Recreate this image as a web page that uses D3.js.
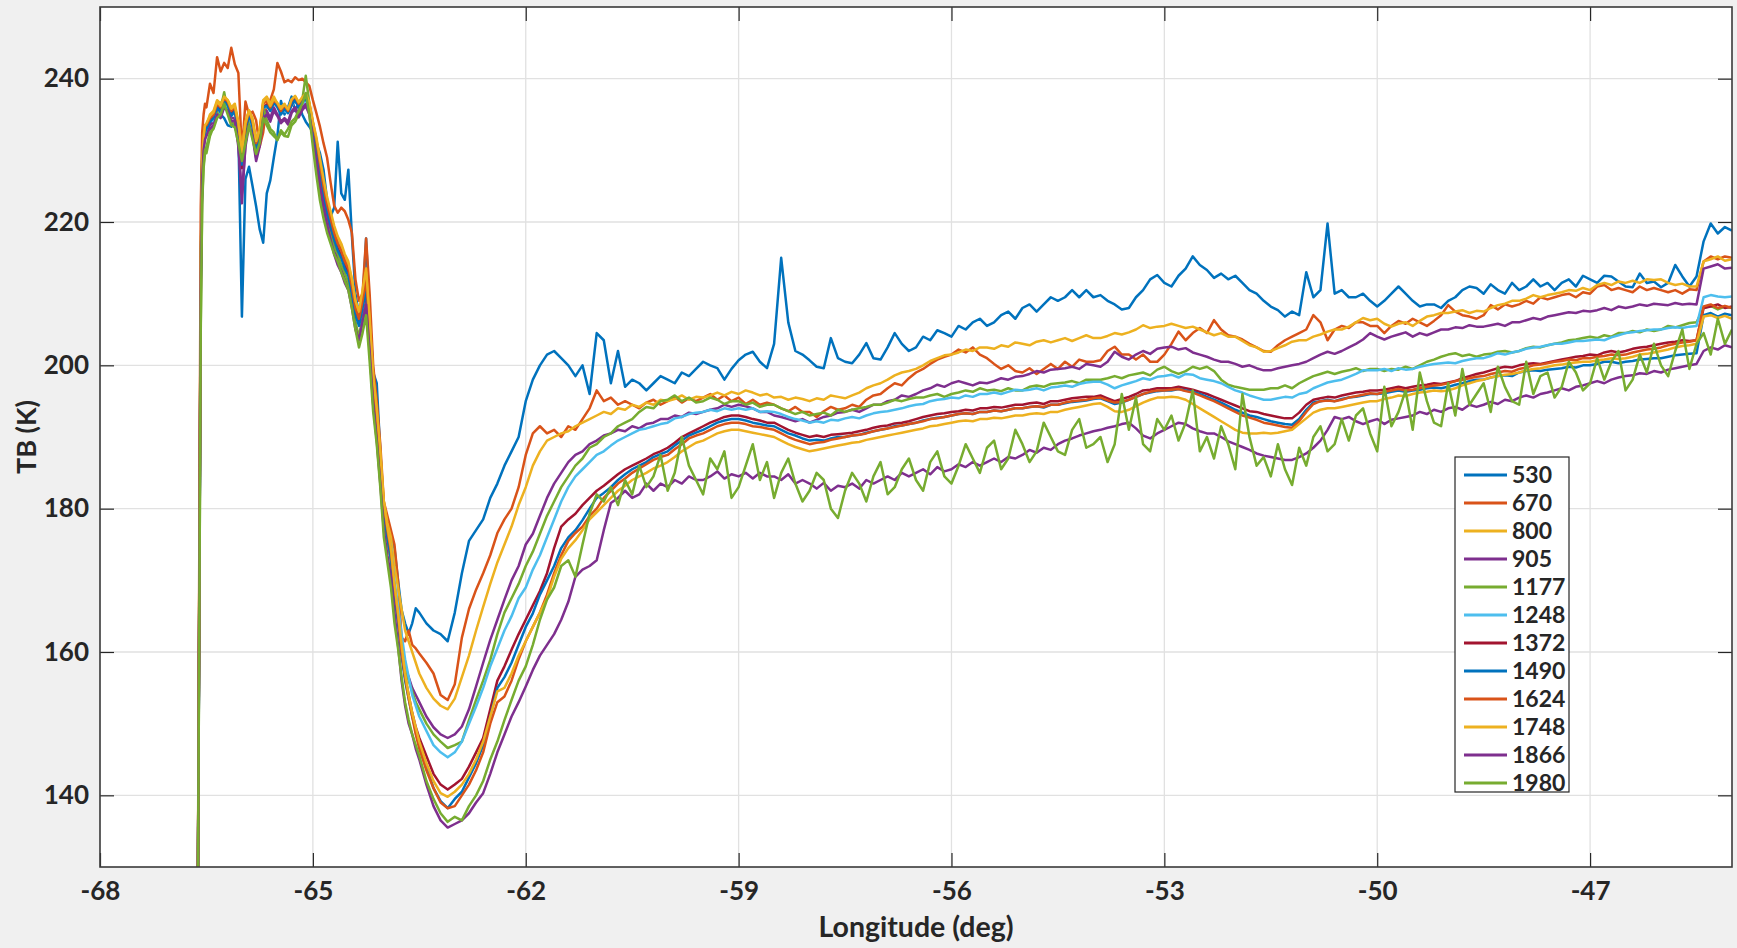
<!DOCTYPE html>
<html>
<head>
<meta charset="utf-8">
<script src="https://cdn.jsdelivr.net/npm/d3@7"></script>
<style>
  html, body { margin: 0; padding: 0; background: #f0f0f0; }
  svg { display: block; }
  text { font-family: Lato, "Open Sans", sans-serif; font-weight: 700; fill: #262626; }
</style>
</head>
<body>
<svg id="chart" width="1737" height="948"></svg>
<script>
// ---- sampling grid (deg): fine steps over the coastal rise, 0.05 over the hump, 0.1 across the plateau
const lonRise = [-66.64, -66.62, -66.60, -66.58, -66.56, -66.54, -66.52];
const lonHump = d3.range(61).map(i => +(-66.5 + 0.05 * i).toFixed(2));
const lonPlateau = d3.range(185).map(i => +(-63.4 + 0.1 * i).toFixed(2));
const longitude = lonRise.concat(lonHump, lonPlateau);

// ---- axis ticks
const xTicks = [-68, -65, -62, -59, -56, -53, -50, -47];
const yTicks = [140, 160, 180, 200, 220, 240];

// ---- channels (MHz) and colours
const channels = ["530", "670", "800", "905", "1177", "1248", "1372", "1490", "1624", "1748", "1866", "1980"];
const colors = ["#0072BD", "#D95319", "#EDB120", "#7E2F8E", "#77AC30", "#4DBEEE", "#A2142F",
                "#0072BD", "#D95319", "#EDB120", "#7E2F8E", "#77AC30"];

// ---- brightness temperature (K) per channel, one value per longitude sample
const tb530 = [
  118, 127, 168, 214, 229, 231.5, 232.5,
  232.5, 234, 234.7, 236, 235, 234.5, 233.5, 233.3, 234, 232.4,
  206.8, 226, 227.7, 225, 222.2, 219, 217.1, 224, 225.8, 229,
  232, 236.9, 235, 236, 237.5, 235.5, 236.5, 235, 234, 233.3,
  232.5, 231, 229.6, 227.3, 223.1, 220.8, 222, 231.2, 224, 223.1,
  227.3, 218.1, 210, 207, 208.5, 217.7, 207, 199, 197.5, 188,
  180, 177, 176, 174.5, 170, 165.9, 164, 162.6, 164, 166.1, 165.5,
  164, 163, 162.5, 161.5, 165.5, 171, 175.5, 177, 178.5, 181.5,
  183.5, 186, 188, 190, 195, 198, 200, 201.5, 202, 201,
  200, 198.5, 200, 196, 204.5, 203.5, 197.5, 202, 197, 198,
  197.5, 196.5, 197.5, 198.5, 198, 197.5, 199, 198.5, 199.5, 200.5,
  200, 199.6, 198, 199.5, 200.7, 201.5, 201.9, 200.5, 199.6, 203,
  215, 206, 202, 201.5, 200.7, 199.8, 199.6, 203.8, 201, 200.5,
  200.3, 201.5, 203.1, 201, 200.8, 202.5, 204.5, 203, 202, 202.5,
  204, 203.5, 204.9, 204.5, 204, 205.5, 205, 206, 206.5, 205.5,
  206, 207, 207.5, 206.5, 208, 208.5, 207.5, 208.5, 209.5, 209,
  209.5, 210.5, 209.5, 210.5, 209.5, 209.8, 209, 208.5, 207.8, 208,
  209.5, 210.5, 212, 212.6, 211.5, 211, 212.5, 213.5, 215.2, 214,
  213.3, 212.2, 212.8, 212, 212.5, 211.5, 210.5, 210, 209, 208.2,
  207.7, 206.8, 207.5, 207, 213, 209.5, 210.5, 219.8, 210, 210.5,
  209.5, 209.5, 210, 209, 208.2, 209, 210, 211, 210, 209,
  208.2, 208.5, 208.5, 208, 209, 209.5, 210.5, 211, 210.8, 210,
  211.3, 210.5, 210, 211.5, 210.5, 211, 212, 211, 211.5, 210.5,
  211.5, 212, 211, 212.5, 212, 211.5, 212.5, 212.4, 211.7, 211,
  210.9, 212.8, 211.5, 211.7, 210.9, 211.5, 214, 212.4, 211, 212.4,
  217.3, 219.8, 218.4, 219.3, 218.8
];
const tb670 = [
  118, 129, 176, 222, 232.5, 235, 236.5,
  236, 239.3, 238, 243, 241, 242.2, 241.5, 244.3, 242, 240.8,
  229.6, 236.8, 235, 235.4, 234.2, 230.5, 232.5, 236.6, 237, 238.5,
  242.2, 241, 239.5, 239.8, 239.5, 240.2, 239.8, 240, 239.5, 239,
  237, 235.2, 233.3, 231, 229, 225.5, 222.3, 221.3, 222, 221.5,
  220.3, 218.5, 212, 209, 210, 217.7, 210, 200, 195, 189,
  181, 179, 177, 175, 170, 162, 161.5, 163, 161, 160.5, 159.8,
  158.5, 157, 154, 153.3, 155.5, 162, 166, 168.7, 171, 173.5,
  176.6, 178.5, 180, 183, 187.5, 190.5, 191.5, 190.5, 191, 190,
  191.5, 191, 192.5, 194, 196.5, 195, 195.5, 194.5, 195, 194.5,
  194, 194.8, 195.2, 194.5, 195, 195.6, 194.8, 195.4, 195, 195.5,
  196, 195.2, 195.8, 195, 195.5, 194.6, 195.2, 194.5, 194.8, 194.5,
  194, 193.6, 194.2, 193.5, 193.5, 192.8, 193.6, 194.2, 193.8, 194,
  194.5, 194.2, 195.2, 195.8, 196, 196.8, 197.5, 197.2, 198.2, 199,
  199.5, 200.2, 200.8, 201.2, 201.5, 202.2, 201.8, 202.5, 201.5, 201,
  200.2, 199.5, 200, 199.2, 199, 199.6, 198.8, 199.5, 200.2, 199.5,
  200.5, 199.8, 200.8, 200.5, 200.5, 200.7, 202, 202.6, 201.5, 201.5,
  200.8, 201.5, 200.5, 200.5, 201.5, 203, 204.7, 203.5, 204.5, 205.2,
  204.5, 206.3, 205, 204.2, 204, 203.6, 203, 202.5, 202, 201.9,
  202.8, 203.5, 204, 204.5, 205, 207, 206, 203.5, 205, 205.5,
  205.2, 206, 206, 205.5, 205.5, 204.5, 205.5, 206.2, 205.8, 206.5,
  206, 205.5, 206.2, 207, 208.4, 207.5, 207, 206.8, 206.5, 207,
  208.4, 207.8, 208.5, 208.2, 208.5, 209, 208.6, 209.5, 209.2, 209.5,
  209.8, 210, 209.5, 210.2, 210, 211, 211.2, 210.5, 210.8, 210.5,
  210.2, 211, 210.5, 210.8, 210.5, 210.2, 210.5, 210, 210.6, 210.5,
  214.5, 215.2, 214.8, 215.2, 215
];
const tb800 = [
  118, 128, 171, 214, 228, 231.5, 233,
  233.5, 235, 235.5, 237, 236.5, 237.5, 237, 236, 236.5, 234,
  230, 234, 235.5, 234.5, 231.5, 233, 237, 237.5, 236.5, 237.5,
  236.5, 236, 236.5, 235.5, 237, 237.5, 236.5, 237, 237.5, 236.5,
  234, 231.5, 228.5, 225.5, 223, 221, 219, 217.5, 216.5, 215,
  214, 212, 209, 207, 210, 213, 206, 198.5, 193.5, 187.5,
  181, 178, 176, 172, 169, 166, 163, 161.5, 160, 158.5, 157,
  155, 153.5, 152.5, 152, 153.5, 156.5, 159.5, 163, 166.3, 169.5,
  172.5, 175, 177.5, 180.5, 183, 186, 188, 189.5, 190, 190.5,
  190.8, 191.5, 192, 192.5, 193, 193.5, 193.2, 194, 193.8, 194.5,
  194.2, 194.8, 194.5, 195.2, 195, 195.3, 195.8, 195.2, 195.6, 195.5,
  195.8, 196.2, 195.8, 196.3, 196, 196.5, 196.2, 195.8, 196, 195.5,
  195.6, 195.2, 195.5, 195.3, 195, 195.4, 195.2, 195.8, 195.6, 195.4,
  195.8, 196.2, 196.8, 197.2, 197.5, 198, 198.6, 199, 199.2, 199.5,
  200, 200.6, 201, 201.4, 201.5, 201.8, 202.2, 202, 202.5, 202.5,
  202.3, 202.8, 202.6, 203.2, 203, 202.8, 203.3, 203.5, 203.2, 203.5,
  203.8, 203.4, 203.8, 204.2, 203.8, 203.8, 204.1, 204.5, 204.3, 204.6,
  205, 205.6, 205.2, 205.4, 205.5, 205.8, 205.5, 205.2, 205.4, 205,
  204.6, 204.2, 204.5, 204, 204, 203.4, 202.8, 202.5, 201.9, 202,
  202.4, 202.8, 203.3, 203.5, 203.5, 204, 204.3, 204.7, 205, 205,
  205.4, 206, 206.6, 206.3, 206.5, 205.8, 205.4, 205.8, 206, 205.5,
  206.2, 206.8, 207, 207.3, 207.3, 207.5, 207.7, 207.3, 207.6, 207.5,
  208, 208.4, 208.6, 209, 209, 209.3, 209.8, 209.5, 209.8, 210,
  210.2, 210.5, 210.4, 210.8, 210.5, 211.2, 211.5, 211.2, 211.7, 211.5,
  211.8, 211.5, 212, 211.9, 212, 211.5, 211.2, 211.4, 211, 211,
  214.5, 214.8, 215.2, 214.6, 214.8
];
const tb905 = [
  118, 127, 169, 212, 227, 230.5, 232,
  232.5, 233.5, 234, 235.5, 235, 236, 235.5, 234.5, 234.5, 231,
  222.6, 231, 234, 232.5, 229, 231, 235, 235.5, 234.5, 236,
  235, 234, 234.5, 234, 235.5, 236, 235, 236, 236.5, 235.5,
  232, 229.5, 226, 223, 220.5, 218.5, 216.5, 215, 213.5, 212,
  211, 208.5, 205.5, 204, 206.5, 209, 202.5, 195, 190.5, 184.5,
  179, 176, 173, 169, 166, 161, 158, 156.5, 155, 154, 153,
  151, 149.5, 148.5, 148, 148.5, 149.6, 152, 155.2, 158.5, 161.7,
  164.5, 167.3, 170, 172, 175, 176.5, 179, 181.5, 183.5, 185,
  186.5, 187.5, 188, 189, 189.5, 190.2, 190.5, 191, 190.8, 191.5,
  191.2, 191.8, 192, 192.5, 192.5, 193, 192.8, 193.4, 193.2, 193.5,
  193.8, 194, 194.5, 194.2, 194.5, 194.3, 194, 193.5, 193.5, 193,
  192.8, 192.5, 192.2, 192.5, 192, 192.4, 192.8, 193, 193.4, 193.5,
  193.8, 193.5, 194, 194.5, 194.5, 195, 195.2, 195.8, 195.6, 196,
  196.5, 196.8, 197.3, 197, 197.5, 197.8, 197.5, 197.2, 197.6, 197.5,
  197.8, 198.2, 198, 198.4, 198.5, 198.8, 199.2, 199, 199.4, 199.5,
  199.6, 199.8, 199.5, 200.2, 200, 199.8, 200.5, 201.9, 201.2, 200.8,
  201.5, 202, 201.6, 202.3, 202.5, 202.6, 202.2, 202.4, 201.8, 201.5,
  201.2, 200.8, 200.5, 200.5, 200.2, 199.8, 200, 199.6, 199.3, 199.3,
  199.6, 199.8, 200, 200.2, 200.5, 201, 201.5, 201.9, 201.6, 202,
  202.5, 203, 203.6, 204.5, 204, 203.6, 204, 204.3, 204.6, 204,
  204.5, 204.2, 204.6, 205, 205, 205.3, 205.2, 205.6, 205.4, 205.4,
  205.6, 205.8, 205.5, 206, 206, 206.3, 206.6, 206.4, 206.8, 207,
  207.2, 207.4, 207.3, 207.6, 207.5, 207.7, 208, 207.7, 208.2, 208,
  208.2, 208.5, 208.3, 208.6, 208.5, 208.4, 208.7, 208.5, 208.6, 208.5,
  213.5, 213.8, 214.1, 213.5, 213.6
];
const tb1177 = [
  118, 127, 165, 205, 222.5, 227.5, 229.6,
  229.6, 232, 233.3, 235, 235.8, 238.1, 235.5, 234.2, 233.5, 231.5,
  229.6, 232, 234.7, 232, 230, 231.9, 236, 234.2, 233, 232.5,
  231.4, 232.5, 232, 231.9, 233.5, 234, 235, 237, 240.4, 236.6,
  231.9, 227.3, 224, 221.7, 219.5, 218.1, 216.5, 215.6, 214, 212.9,
  211.5, 209, 206, 204, 206, 208.5, 202, 194.5, 190, 184,
  178.5, 175.5, 172.5, 168, 165, 161, 158, 156, 154.5, 153, 152,
  150, 148.5, 147.5, 146.6, 147, 147.5, 150.5, 153.3, 156, 158.9,
  162.5, 165.5, 167.5, 169.5, 172, 174, 176.5, 179, 181, 183,
  184.5, 186, 187, 188.5, 189, 190, 190.5, 191.5, 192, 192.5,
  193.5, 194.2, 194, 195, 195.2, 195.8, 195, 195.5, 194.8, 195,
  195.5, 195.2, 194.6, 195, 195, 194.5, 194.8, 194.2, 194.5, 194.5,
  194, 193.6, 193.2, 193.5, 193, 193.2, 193.4, 193, 193.8, 193.5,
  193.8, 194, 194.2, 194.5, 194.5, 194.8, 195.2, 195, 195.3, 195.5,
  195.5, 195.8, 196, 195.6, 196, 196.2, 196.5, 196.3, 196.8, 196.5,
  196.6, 196.4, 196.8, 196.5, 196.5, 197, 197.2, 197, 197.4, 197.5,
  197.6, 197.8, 197.5, 198, 198, 198, 198.2, 198.5, 198.2, 198.6,
  198.8, 199, 198.6, 199.4, 199.8, 199.2, 198.8, 199.2, 199.8, 199.5,
  199.8, 199.2, 198, 197.3, 197, 196.8, 196.6, 196.6, 196.6, 196.8,
  196.8, 197.2, 196.8, 197.5, 198, 198.5, 198.8, 199.1, 198.8, 199.1,
  199.3, 199.6, 199.2, 199.5, 199.5, 199.2, 199.5, 199.4, 199.8, 199.5,
  200, 200.5, 200.8, 201.2, 201.5, 201.7, 201.3, 201.5, 201.2, 201.5,
  201.6, 201.9, 202, 201.8, 202, 202.4, 202.6, 202.5, 202.8, 203,
  203.2, 203.5, 203.6, 203.8, 204, 203.8, 204.2, 204, 204.5, 204.5,
  204.8, 204.6, 205, 204.8, 205, 205.5, 205.3, 205.6, 205.9, 206,
  208, 208.3, 207.8, 208.2, 208
];
const tb1248 = [
  118, 128, 170, 213, 227.5, 231, 232.5,
  233, 234.5, 234, 236.5, 235, 237, 236, 235.5, 235, 233.5,
  228.5, 233.5, 235, 233, 231, 232.5, 236, 236, 235.8, 236.5,
  236.2, 235.3, 235.5, 235.2, 236.2, 236.8, 236.3, 236.5, 237, 236.2,
  233.5, 231, 227.5, 224.5, 222, 220, 218, 216.5, 215.5, 214,
  213, 210.5, 207.5, 206, 208.5, 211, 204.5, 197, 192.5, 186.5,
  180, 177, 174.5, 170, 166.5, 162.5, 159, 156.5, 154, 152.5, 151,
  149, 147, 146, 145.3, 146, 147.5, 150, 152.4, 155, 158,
  160.5, 163, 165, 167.5, 169, 171.5, 173.5, 176, 178.5, 181,
  183, 184.5, 185.5, 186.5, 187.5, 188, 188.8, 189.5, 190, 190.5,
  191, 191.2, 191.5, 191.8, 192, 192.6, 192.8, 193.2, 193.4, 193.5,
  193.8, 193.6, 194, 193.8, 194, 193.8, 194, 193.5, 193.6, 193.5,
  193.2, 192.8, 192.5, 192.3, 192, 192.2, 192, 192.4, 192.3, 192.6,
  192.8, 192.6, 193, 193.3, 193.5, 193.6, 193.8, 194, 194.3, 194.5,
  194.6, 195, 195.2, 195.3, 195.5, 195.4, 195.8, 195.6, 196, 196,
  196.2, 196, 196.3, 196.6, 196.5, 196.6, 196.8, 196.5, 196.9, 197,
  197.2, 197, 197.4, 197.6, 197.7, 197.7, 197.3, 196.8, 197.2, 197.5,
  197.8, 198.2, 198, 198.4, 198.5, 198.7, 198.3, 198.8, 198.7, 198.2,
  198, 197.8, 197.5, 197, 196.5, 196.2, 195.8, 195.5, 195.2, 195.2,
  195.4, 195.6, 195.5, 196, 196.2, 196.8, 197.2, 197.6, 197.8, 198,
  198.4, 198.8, 199.3, 199.3, 199.3, 199.5, 199.2, 199.6, 199.4, 199.5,
  199.8, 200, 200.2, 200.3, 200.4, 200.3, 200.6, 200.8, 201, 201,
  201.3, 201.7, 201.5, 201.8, 202, 202.3, 202.5, 202.6, 202.8, 203,
  203, 203.2, 203.4, 203.4, 203.5, 203.6, 203.5, 203.9, 204.2, 204.5,
  204.6, 204.8, 204.9, 205, 205, 205.2, 205.3, 205.2, 205.4, 205.5,
  209.5, 209.8, 209.6, 209.5, 209.6
];
const tb1372 = [
  118, 128, 170, 213, 228, 231.5, 233,
  233.3, 234.2, 234.8, 236.2, 235.6, 236.8, 236.5, 235.2, 235.8, 232.5,
  227.5, 232.8, 235.2, 233.8, 230.2, 232.3, 236.2, 236.3, 235.8, 236.6,
  236.3, 235.2, 236, 235.4, 236.3, 237.2, 236, 236.8, 237.3, 236.3,
  233.2, 231, 227.3, 224.5, 222, 220, 218, 216.3, 215.3, 214,
  212.8, 210.5, 207.5, 206, 208.5, 211.5, 204.5, 197, 192.5, 186.5,
  180, 176.5, 173.5, 168.5, 164.5, 160, 156.5, 154, 151.5, 149.5, 148,
  145.5, 143, 141.5, 140.8, 141.5, 142.3, 144, 146, 148, 152,
  156, 158, 160.3, 162.5, 164.5, 166.5, 168.5, 171, 174.5, 177.5,
  178.5, 179.3, 180.5, 181.5, 182.5, 183.2, 184, 184.8, 185.5, 186,
  186.5, 187, 187.6, 188, 188.5, 189.2, 190, 190.5, 191, 191.5,
  192, 192.4, 192.8, 193, 193, 192.8, 192.5, 192.3, 192, 192,
  191.5, 191, 190.6, 190.3, 190, 190.2, 190, 190.3, 190.4, 190.5,
  190.6, 190.8, 191, 191.3, 191.5, 191.6, 191.9, 192, 192.2, 192.5,
  192.8, 193, 193.2, 193.3, 193.5, 193.6, 193.8, 193.7, 194, 194,
  194.2, 194.1, 194.3, 194.5, 194.5, 194.7, 194.8, 194.6, 195, 195,
  195.2, 195.4, 195.5, 195.6, 195.6, 195.8, 195.4, 195, 195.3, 195.6,
  196, 196.5, 196.6, 196.8, 196.8, 196.8, 197, 196.8, 196.6, 196.3,
  196, 195.6, 195.2, 194.8, 194.4, 194, 193.6, 193.5, 193.2, 193,
  192.8, 192.6, 192.6, 193.4, 194.5, 195.2, 195.4, 195.6, 195.5, 195.8,
  196, 196.2, 196.3, 196.5, 196.5, 196.6, 196.8, 197, 196.8, 197,
  197.2, 197.3, 197.5, 197.4, 197.6, 197.8, 198.2, 198.5, 198.8, 199,
  199.3, 199.6, 199.8, 199.7, 200, 200.2, 200.3, 200.2, 200.4, 200.6,
  200.8, 201, 201.2, 201.3, 201.5, 201.4, 201.8, 202, 201.8, 202,
  202.3, 202.5, 202.6, 202.8, 203, 203.2, 203.3, 203.5, 203.4, 203.5,
  208, 208.2, 208.5, 208, 208.2
];
const tb1490 = [
  118, 128, 169, 212, 227.5, 231, 232.5,
  233, 234, 234.5, 236, 235.3, 236.8, 236.3, 234.8, 235.5, 232.7,
  228, 233, 235, 233.3, 230.3, 232, 236, 236.2, 235.5, 236.7,
  236, 235, 235.8, 235.2, 236.4, 237, 236, 236.8, 237.2, 236,
  233, 230.5, 227, 224, 221.5, 219.5, 217.5, 216, 215, 213.5,
  212.5, 210, 207, 205.5, 208, 210.5, 204, 196.5, 192, 186,
  179.5, 176, 173, 168, 164, 159.5, 156, 153.5, 151, 149, 147,
  144, 141, 139.2, 138.2, 139.5, 140.5, 142.5, 144.5, 147, 151,
  155, 156.5, 158.5, 161, 163.5, 165.4, 168, 170, 172, 174.5,
  176, 177, 178.4, 180, 181.5, 182.2, 183, 184, 184.8, 185.5,
  186, 186.5, 187.2, 187.6, 188, 188.8, 189.5, 190.2, 190.6, 191,
  191.5, 192, 192.3, 192.5, 192.5, 192.3, 192, 191.8, 191.6, 191.5,
  191, 190.5, 190.2, 189.8, 189.5, 189.6, 189.5, 189.8, 190, 190,
  190.2, 190.3, 190.6, 190.8, 191, 191.2, 191.5, 191.6, 191.8, 192,
  192.3, 192.5, 192.7, 192.8, 193, 193.2, 193.3, 193.2, 193.5, 193.5,
  193.7, 193.6, 193.8, 194, 194, 194.2, 194.3, 194.1, 194.5, 194.5,
  194.7, 194.9, 195, 195.1, 195.3, 195.4, 195, 194.6, 194.8, 195.2,
  195.6, 196, 196.2, 196.4, 196.5, 196.5, 196.7, 196.5, 196.3, 196,
  195.6, 195.2, 194.8, 194.3, 193.8, 193.4, 193, 192.8, 192.5, 192.2,
  192, 191.8, 191.7, 192.5, 193.8, 194.8, 195, 195.2, 195, 195.3,
  195.5, 195.6, 195.8, 196, 196, 196.1, 196.3, 196.5, 196.3, 196.5,
  196.6, 196.8, 196.9, 196.8, 197, 197.3, 197.5, 197.8, 198, 198,
  198.3, 198.5, 198.6, 198.5, 199, 199.2, 199.3, 199.2, 199.4, 199.5,
  199.6, 199.8, 199.7, 200, 200, 200.2, 200.5, 200.5, 200.3, 200.5,
  200.6, 200.8, 200.9, 201, 201, 201.2, 201.4, 201.5, 201.6, 201.7,
  207, 207.3, 206.8, 207.2, 207
];
const tb1624 = [
  118, 128, 171, 214, 228.5, 232, 233.5,
  233.5, 234.5, 235, 236.5, 236, 237.3, 236.8, 235.5, 236, 233.5,
  229.5, 233.5, 235.5, 234, 231, 232.5, 236.5, 237, 236, 237,
  236.5, 235.5, 236.3, 235.5, 237, 237.5, 236.5, 237.3, 237.8, 236.5,
  233.8, 231.3, 228, 225, 222.5, 220.5, 218.5, 217, 216, 214.5,
  213.5, 211, 208, 206.5, 209, 212, 205, 197.5, 193, 187,
  180.5, 177, 174, 169, 165, 160, 156.5, 153.5, 151, 148.5, 146.5,
  143.5, 141, 139, 138.2, 138.5, 140, 141.5, 143.5, 146, 150,
  153, 153.8, 156, 159, 161.5, 163.5, 165.5, 168, 171, 173.5,
  175.5, 176.6, 177.5, 179, 180, 181.5, 182.5, 183.5, 184.2, 185,
  185.6, 186.2, 186.8, 187.2, 187.5, 188.3, 189, 189.8, 190.2, 190.5,
  191, 191.5, 191.8, 192, 192, 191.8, 191.5, 191.4, 191.2, 191,
  190.5, 190, 189.6, 189.3, 189, 189.2, 189.3, 189.6, 189.8, 190,
  190.2, 190.3, 190.5, 190.8, 191, 191.2, 191.4, 191.6, 191.8, 192,
  192.2, 192.5, 192.6, 192.8, 193, 193.2, 193.3, 193.2, 193.5, 193.5,
  193.7, 193.6, 193.8, 194, 194, 194.2, 194.3, 194.2, 194.5, 194.5,
  194.8, 195, 195.1, 195.2, 195.4, 195.5, 195.1, 194.8, 194.9, 195.2,
  195.6, 196, 196.3, 196.5, 196.5, 196.6, 196.7, 196.4, 196.2, 195.8,
  195.4, 195, 194.5, 194, 193.5, 193, 192.7, 192.4, 192, 191.8,
  191.6, 191.4, 191.3, 192.2, 193.5, 194.6, 195, 195.1, 195, 195.2,
  195.5, 195.7, 195.9, 196.1, 196, 196.3, 196.5, 196.7, 196.5, 196.6,
  196.8, 197, 197.2, 197.3, 197.5, 197.8, 198, 198.2, 198.4, 198.5,
  198.8, 199, 199.2, 199.1, 199.5, 199.7, 200, 200.1, 200.3, 200.5,
  200.6, 200.8, 200.7, 201, 201, 201.2, 201.3, 201.5, 201.4, 201.5,
  201.8, 202, 202.2, 202.3, 202.5, 202.8, 203, 203.2, 203.3, 203.5,
  208.2, 208.5, 208, 208.3, 208
];
const tb1748 = [
  118, 128, 171, 214, 228.5, 232, 233.5,
  233.8, 234.8, 235.3, 236.8, 236.2, 237.5, 237, 235.8, 236.2, 233.8,
  229.8, 233.8, 235.6, 234.2, 231.3, 232.8, 236.8, 237.3, 236.2, 237.2,
  236.6, 235.8, 236.4, 235.7, 237.1, 237.6, 236.7, 237.4, 237.9, 236.7,
  234, 231.8, 228.8, 226, 223.5, 221.5, 219.5, 218, 217, 215.5,
  214.5, 212, 209, 207.5, 210.5, 213.5, 206.5, 198.5, 194, 188,
  181, 177.5, 174.5, 169.5, 165.5, 161, 157, 154, 151.5, 149.5, 147.5,
  144.5, 142, 140.3, 139.8, 140.5, 141.5, 143, 145, 147.5, 151,
  154.5, 155, 157, 159.5, 161.5, 163.5, 165.5, 167.5, 170.5, 173,
  174.5, 175.6, 177, 178.5, 179.5, 180.5, 181.5, 182.5, 183.2, 184,
  184.5, 185, 185.6, 186, 186.5, 187.2, 188, 188.6, 189.2, 189.5,
  190, 190.5, 190.8, 191, 191, 190.8, 190.6, 190.4, 190.2, 190,
  189.5, 189, 188.6, 188.3, 188, 188.2, 188.4, 188.6, 188.8, 189,
  189.2, 189.3, 189.6, 189.8, 190, 190.2, 190.4, 190.6, 190.8, 191,
  191.2, 191.5, 191.6, 191.8, 192, 192.2, 192.3, 192.2, 192.5, 192.5,
  192.7, 192.6, 192.8, 193, 193, 193.2, 193.3, 193.2, 193.5, 193.5,
  193.8, 194, 194.2, 194.4, 194.6, 194.7, 194.2, 193.6, 193.5, 193.8,
  194.3, 194.8, 195.2, 195.5, 195.5, 195.6, 195.5, 195.2, 194.6, 194,
  193.4, 192.8, 192.2, 191.6, 191, 190.6, 190.5, 190.5, 190.6, 190.5,
  190.6, 190.8, 191, 191.8, 192.6, 193.4, 193.8, 194, 194, 194.2,
  194.4, 194.6, 194.8, 195, 195, 195.3, 195.5, 195.8, 195.7, 196,
  196.2, 196.3, 196.5, 196.4, 196.5, 196.8, 197.2, 197.5, 197.8, 198,
  198.3, 198.5, 198.7, 198.8, 199, 199.3, 199.5, 199.6, 199.8, 200,
  200.1, 200.3, 200.4, 200.5, 200.5, 200.7, 200.8, 201, 200.9, 201,
  201.2, 201.5, 201.6, 201.8, 202, 202.2, 202.5, 202.7, 202.8, 203,
  206.8, 207, 206.6, 206.9, 206.5
];
const tb1866 = [
  118, 127, 168, 210, 226, 230, 231.5,
  232, 233, 233.5, 235, 234.5, 236, 235.5, 234, 234.2, 230.5,
  224, 230.5, 233.5, 232, 228.5, 230.5, 234.5, 235, 234, 235.5,
  234.8, 233.8, 234.3, 233.6, 235.2, 235.8, 234.6, 235.6, 236.2, 235,
  231.5, 228.5, 225, 222, 219.5, 217.5, 215.5, 214, 213, 211.5,
  210.5, 208, 205, 203.5, 206, 208.5, 202, 194.5, 189.5, 183.5,
  177, 173.5, 170.5, 165.5, 161, 156, 152.5, 150, 148.5, 146.5, 145,
  141.5, 138.5, 136.5, 135.5, 136, 136.5, 137.5, 139, 140.3, 143,
  146, 148.5, 151, 153, 155.2, 157.5, 159.5, 161, 162.5, 164.5,
  167, 170.5, 171.5, 172, 172.8, 177, 180.8, 181.5, 182.5, 181.5,
  182, 183.5, 182.5, 183.5, 183, 184, 183.5, 184.5, 184, 184,
  184.5, 185.2, 184.2, 184.8, 184.5, 185, 184.2, 185, 184.5, 184.5,
  184, 184.8, 183.5, 184, 183.5, 182.8, 183.6, 182.5, 183.2, 183,
  183.5, 182.8, 184, 183.5, 184, 184.5, 184, 185, 184.5, 185,
  185.5, 184.8, 185.8, 185.2, 185.5, 186.2, 185.8, 186.5, 186, 186.5,
  187, 186.5, 187.2, 187, 187.5, 188.2, 187.8, 188.5, 188.2, 189,
  189.5, 189.8, 190.2, 190.5, 190.8, 191, 191.3, 191.5, 191.8, 192,
  191.2, 190.2, 189.8, 190.5, 191, 191.5, 192, 191.8, 191.2, 190.8,
  190.5, 190.5, 190, 189.4, 189, 188.6, 188.2, 187.7, 187.4, 187.2,
  187, 186.8, 186.8, 187.2, 187.7, 188.5, 189.5, 191, 192.8, 192.5,
  192.8, 192.2, 191.8, 192.2, 192.5, 191.8, 192.4, 192.6, 192.8, 193,
  193.5, 193.2, 193.8, 193.5, 194, 194.2, 193.8, 194.5, 194.2, 194.5,
  194.9, 194.6, 195.2, 195, 195.5, 195.8, 195.5, 196, 196.2, 196.5,
  196.8, 196.5, 197, 197.2, 197.5, 197.8, 197.5, 198, 198.3, 198.5,
  198.6, 198.9, 198.8, 199.2, 199, 199.4, 199.6, 199.8, 200, 200.2,
  202, 202.5, 202.2, 202.8, 202.5
];
const tb1980 = [
  118, 127, 165, 206, 223, 228, 230,
  230.5, 232.5, 233, 234.5, 235, 236.5, 235, 233.5, 233.2, 231,
  228.5, 231, 233.5, 231.5, 229.5, 231, 234.5, 233.5, 232.5, 232,
  231.5, 232.8, 232.2, 233, 234, 234.5, 235.5, 236.5, 238, 235,
  230.5, 226.5, 223, 220.5, 218.5, 217, 215.5, 214.5, 213, 211.8,
  210.5, 208, 205, 202.5, 204.5, 207, 200.5, 193.5, 189, 183,
  176, 172.5, 169, 164, 160.5, 156.5, 153, 150.5, 148.5, 147, 145.5,
  142, 139.5, 137.5, 136.3, 137, 136.5, 138.5, 140, 142, 145,
  147.5, 150.5, 153.3, 156, 158, 161, 164.5, 167.3, 169, 172,
  172.8, 170.5, 175, 179.3, 182, 181, 183, 180.5, 184, 182,
  186, 183, 184.5, 187.5, 182.5, 185, 190, 186, 184, 182,
  187, 185.5, 188, 181.5, 183, 186, 189, 184, 186.5, 181.5,
  185, 187, 183.5, 181, 182.5, 185, 184, 180, 178.7, 182.5,
  185, 183.5, 181, 184.5, 186.5, 182, 183, 185.5, 187, 184,
  182.5, 186.5, 188, 184.5, 183.5, 186, 189, 187, 185, 188.5,
  189.5, 185.5, 187, 191, 189, 186.5, 188, 192, 190, 188,
  187.5, 191, 192.5, 188.5, 189, 190, 186.5, 189, 196, 191,
  195.5, 189, 188, 192.5, 191, 193, 189.5, 192, 196.5, 188,
  190, 187, 191.5, 189, 185.5, 196, 190, 186, 187.2, 184.5,
  189, 185.5, 183.3, 188.5, 186, 190, 191.5, 188, 189, 192.5,
  189.5, 193, 194, 190.5, 188, 197, 191.5, 193.5, 196.5, 191,
  199, 195, 192, 191.5, 197.5, 193, 199.5, 194.5, 196, 197.5,
  193.5, 199.8, 197, 195, 194.5, 200.5, 196, 198.5, 199, 195.5,
  197, 200.5, 199, 196.5, 197.5, 201, 198, 200.5, 202, 196.5,
  198, 201.5, 199, 203, 200, 198.5, 202, 205, 199.5, 203,
  204.5, 201.5, 206.5, 203, 205
];

const tbSeries = [tb530, tb670, tb800, tb905, tb1177, tb1248, tb1372, tb1490, tb1624, tb1748, tb1866, tb1980];

// ---- layout
const plot = { left: 100, top: 7, right: 1732, bottom: 867 };

const svg = d3.select("#chart");
const x = d3.scaleLinear().domain([-68, -45]).range([plot.left, plot.right]);
const y = d3.scaleLinear().domain([130, 250]).range([plot.bottom, plot.top]);

// axes background
svg.append("rect")
  .attr("x", plot.left).attr("y", plot.top)
  .attr("width", plot.right - plot.left).attr("height", plot.bottom - plot.top)
  .attr("fill", "#ffffff");

// grid
const grid = svg.append("g").attr("stroke", "#e1e1e1").attr("stroke-width", 1.3);
grid.selectAll("line.gx").data(xTicks.slice(1)).join("line")
  .attr("x1", d => x(d)).attr("x2", d => x(d))
  .attr("y1", plot.top).attr("y2", plot.bottom);
grid.selectAll("line.gy").data(yTicks).join("line")
  .attr("x1", plot.left).attr("x2", plot.right)
  .attr("y1", d => y(d)).attr("y2", d => y(d));

// data lines, clipped to the axes box
svg.append("clipPath").attr("id", "plot-clip")
  .append("rect")
  .attr("x", plot.left).attr("y", plot.top)
  .attr("width", plot.right - plot.left).attr("height", plot.bottom - plot.top);

const line = d3.line()
  .x(d => x(d[0]))
  .y(d => y(d[1]));

const linesG = svg.append("g").attr("clip-path", "url(#plot-clip)");
tbSeries.forEach((vals, k) => {
  const pts = longitude.map((lon, i) => [lon, vals[i]]).filter(p => p[1] !== undefined);
  linesG.append("path")
    .datum(pts)
    .attr("fill", "none")
    .attr("stroke", colors[k])
    .attr("stroke-width", 2.5)
    .attr("stroke-linejoin", "round")
    .attr("d", line);
});

// axes with inward ticks
const tickLen = 14;
const fmt = d => String(d);
const styleTicks = g => {
  g.select(".domain").remove();
  g.selectAll(".tick line").attr("stroke", "#262626").attr("stroke-width", 1.2);
  g.selectAll(".tick text").attr("font-size", 26).attr("fill", "#262626")
    .style("font-family", "Lato, 'Open Sans', sans-serif").style("font-weight", 700);
};

svg.append("g")
  .attr("transform", `translate(0,${plot.bottom})`)
  .call(d3.axisBottom(x).tickValues(xTicks).tickSizeInner(-tickLen).tickSizeOuter(0).tickPadding(15).tickFormat(fmt))
  .call(styleTicks);

svg.append("g")
  .attr("transform", `translate(0,${plot.top})`)
  .call(d3.axisTop(x).tickValues(xTicks).tickSizeInner(-tickLen).tickSizeOuter(0).tickFormat(""))
  .call(styleTicks);

svg.append("g")
  .attr("transform", `translate(${plot.left},0)`)
  .call(d3.axisLeft(y).tickValues(yTicks).tickSizeInner(-tickLen).tickSizeOuter(0).tickPadding(11).tickFormat(fmt))
  .call(styleTicks);

svg.append("g")
  .attr("transform", `translate(${plot.right},0)`)
  .call(d3.axisRight(y).tickValues(yTicks).tickSizeInner(-tickLen).tickSizeOuter(0).tickFormat(""))
  .call(styleTicks);

// axes box
svg.append("rect")
  .attr("x", plot.left).attr("y", plot.top)
  .attr("width", plot.right - plot.left).attr("height", plot.bottom - plot.top)
  .attr("fill", "none").attr("stroke", "#3a3a3a").attr("stroke-width", 1.6);

// axis labels
svg.append("text")
  .attr("x", (plot.left + plot.right) / 2).attr("y", 937)
  .attr("text-anchor", "middle").attr("font-size", 28.5)
  .text("Longitude (deg)");

svg.append("text")
  .attr("transform", `translate(36,${(plot.top + plot.bottom) / 2}) rotate(-90)`)
  .attr("text-anchor", "middle").attr("font-size", 27)
  .text("TB (K)");

// legend
const leg = { x: 1455, y: 457, w: 114, h: 335, row: 28, first: 18 };
const legendG = svg.append("g");
legendG.append("rect")
  .attr("x", leg.x).attr("y", leg.y).attr("width", leg.w).attr("height", leg.h)
  .attr("fill", "#ffffff").attr("stroke", "#262626").attr("stroke-width", 1.2);
const items = legendG.selectAll("g.item").data(channels).join("g")
  .attr("transform", (d, i) => `translate(${leg.x},${leg.y + leg.first + i * leg.row})`);
items.append("line")
  .attr("x1", 9).attr("x2", 52).attr("y1", 0).attr("y2", 0)
  .attr("stroke", (d, i) => colors[i]).attr("stroke-width", 3);
items.append("text")
  .attr("x", 57).attr("y", 0).attr("dy", "0.36em")
  .attr("font-size", 23)
  .text(d => d);
</script>
</body>
</html>
